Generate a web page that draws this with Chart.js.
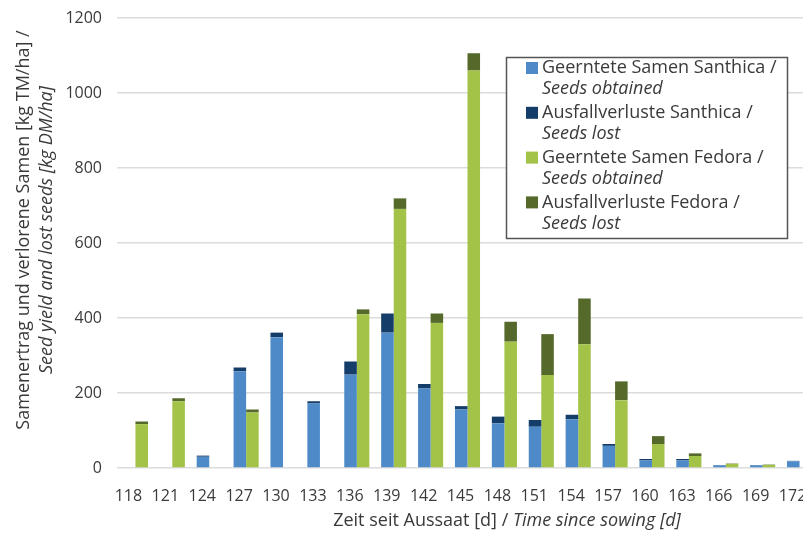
<!DOCTYPE html>
<html>
<head>
<meta charset="utf-8">
<script src="https://cdn.jsdelivr.net/npm/chart.js@4/dist/chart.umd.min.js"></script>
<style>
  html, body { margin: 0; padding: 0; background: #fff; }
  #wrap { width: 803px; height: 533px; overflow: hidden; }
</style>
</head>
<body>
<div id="wrap"><canvas id="seedChart" width="818" height="533"></canvas></div>
<script>
// Days since sowing (categories)
const days = ["118", "121", "124", "127", "130", "133", "136", "139", "142", "145",
              "148", "151", "154", "157", "160", "163", "166", "169", "172"];

// kg DM/ha
const santhicaObtained = [0, 0, 30, 258, 349, 172, 249, 361, 212, 156, 119, 110, 130, 59, 20, 20, 7, 7, 18];
const santhicaLost     = [0, 0, 3, 10, 12, 6, 35, 51, 12, 9, 18, 18, 12, 5, 4, 4, 1, 1, 1];
const fedoraObtained   = [117, 178, 0, 148, 0, 0, 410, 691, 387, 1060, 337, 248, 330, 181, 64, 32, 11, 8, 0];
const fedoraLost       = [7, 8, 0, 8, 0, 0, 13, 28, 25, 46, 53, 109, 122, 50, 21, 7, 1, 1, 0];

const yTicks = [0, 200, 400, 600, 800, 1000, 1200];

const legendLines = [
  ["Geerntete Samen Santhica /", "Seeds obtained"],
  ["Ausfallverluste Santhica /", "Seeds lost"],
  ["Geerntete Samen Fedora /", "Seeds obtained"],
  ["Ausfallverluste Fedora /", "Seeds lost"]
];
const yTitle = ["Samenertrag und verlorene Samen [kg TM/ha] /", "Seed yield and lost seeds [kg DM/ha]"];
const xTitle = ["Zeit seit Aussaat [d] / ", "Time since sowing [d]"];

const colors = ["#4e8ac8", "#143d69", "#a3c248", "#55692b"];
const textColor = "#3a3a3a";
const fontFamily = '"Open Sans", sans-serif';

// Axis titles and legend are drawn by hand (mixed upright / italic lines)
const textPlugin = {
  id: "textPlugin",
  afterDraw(chart) {
    const ctx = chart.ctx;
    ctx.save();
    ctx.fillStyle = textColor;
    ctx.textBaseline = "middle";

    // y title
    ctx.save();
    ctx.translate(24, 230);
    ctx.rotate(-Math.PI / 2);
    ctx.textAlign = "center";
    ctx.font = "18px " + fontFamily;
    ctx.fillText(yTitle[0], 0, 0);
    ctx.font = "italic 18px " + fontFamily;
    ctx.fillText(yTitle[1], 0, 23);
    ctx.restore();

    // x title
    ctx.textAlign = "left";
    ctx.font = "18px " + fontFamily;
    const w1 = ctx.measureText(xTitle[0]).width;
    ctx.font = "italic 18px " + fontFamily;
    const w2 = ctx.measureText(xTitle[1]).width;
    let x0 = 507 - (w1 + w2) / 2;
    ctx.font = "18px " + fontFamily;
    ctx.fillText(xTitle[0], x0, 521);
    ctx.font = "italic 18px " + fontFamily;
    ctx.fillText(xTitle[1], x0 + w1, 521);

    // legend
    ctx.fillStyle = "#fff";
    ctx.fillRect(506, 57, 281, 181);
    ctx.strokeStyle = "#555";
    ctx.lineWidth = 1.5;
    ctx.strokeRect(506.5, 57.5, 281, 181);
    legendLines.forEach((lines, i) => {
      const y = 68 + i * 44.8;
      ctx.fillStyle = colors[i];
      ctx.fillRect(526, y - 6, 12, 12);
      ctx.fillStyle = textColor;
      ctx.font = "18px " + fontFamily;
      ctx.fillText(lines[0], 542, y);
      ctx.font = "italic 18px " + fontFamily;
      ctx.fillText(lines[1], 542, y + 21);
    });
    ctx.restore();
  }
};

const ctx = document.getElementById("seedChart").getContext("2d");
new Chart(ctx, {
  type: "bar",
  data: {
    labels: days,
    datasets: [
      { label: legendLines[0].join(" "), data: santhicaObtained, backgroundColor: colors[0], stack: "santhica" },
      { label: legendLines[1].join(" "), data: santhicaLost, backgroundColor: colors[1], stack: "santhica" },
      { label: legendLines[2].join(" "), data: fedoraObtained, backgroundColor: colors[2], stack: "fedora" },
      { label: legendLines[3].join(" "), data: fedoraLost, backgroundColor: colors[3], stack: "fedora" }
    ]
  },
  options: {
    responsive: false,
    animation: false,
    layout: { padding: { top: 18, right: 0, left: 0, bottom: 0 } },
    datasets: { bar: { categoryPercentage: 0.68, barPercentage: 1.0, borderWidth: 0 } },
    plugins: { legend: { display: false }, tooltip: { enabled: false } },
    scales: {
      x: {
        stacked: true,
        grid: { display: false },
        border: { display: false },
        ticks: {
          color: textColor,
          font: { family: fontFamily, size: 16 },
          padding: 11,
          labelOffset: -7,
          maxRotation: 0,
          autoSkip: false
        },
        afterFit(scale) {
          scale.height = 65;
          scale.paddingLeft = 0;
          scale.paddingRight = 0;
        }
      },
      y: {
        stacked: true,
        min: 0,
        max: 1200,
        afterBuildTicks(scale) { scale.ticks = yTicks.map(v => ({ value: v })); },
        grid: { color: "#dcdcdc", lineWidth: 1.5, drawTicks: false },
        border: { display: false },
        ticks: {
          color: textColor,
          font: { family: fontFamily, size: 16 },
          padding: 15,
          callback: v => String(v)
        },
        afterFit(scale) {
          scale.width = 117;
          scale.paddingTop = 0;
          scale.paddingBottom = 0;
        }
      }
    }
  },
  plugins: [textPlugin]
});
</script>
</body>
</html>
